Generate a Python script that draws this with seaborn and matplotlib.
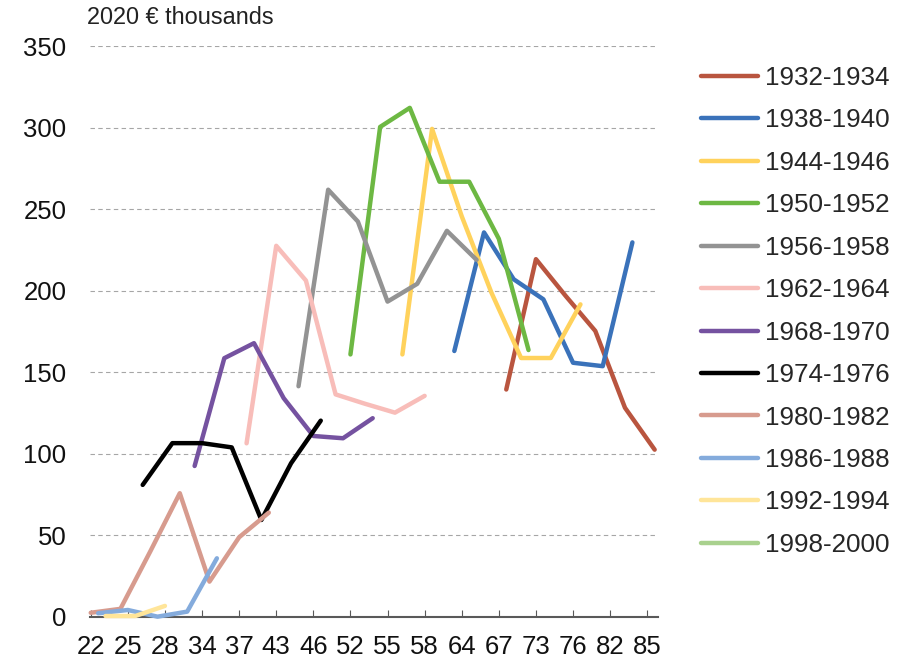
import matplotlib
matplotlib.use("Agg")
import matplotlib.pyplot as plt
from matplotlib.lines import Line2D
import pandas as pd
import seaborn as sns

# birth cohorts and their line colours
cohorts = ["1932-1934", "1938-1940", "1944-1946", "1950-1952", "1956-1958",
           "1962-1964", "1968-1970", "1974-1976", "1980-1982", "1986-1988",
           "1992-1994", "1998-2000"]
colors = ["#B9553F", "#3A72BA", "#FFD25C", "#6DB843", "#939393", "#F8BDB9",
          "#7552A0", "#000000", "#D79B8E", "#84ABDC", "#FFE599", "#A9D18E"]

# category row of each cohort's first wave, and rows of the 7 waves
first_row = [56, 49, 42, 35, 28, 21, 14, 7, 0, -7, -14, -21]
wave_rows = [0, 4, 8, 12, 16, 20, 24]

# values per wave (2020 EUR thousands), None = not shown
v1932 = [139.5, 219.4, 196.9, 175.4, 128.3, 102.6, None]
v1938 = [163.1, 235.8, 207.1, 194.8, 155.9, 153.8, 229.7]
v1944 = [161.0, 299.3, 245.7, 198.9, 158.8, 158.8, 191.7]
v1950 = [161.0, 300.5, 312.2, 266.9, 266.9, 231.9, 163.7]
v1956 = [141.5, 262.0, 242.5, 193.4, 204.3, 236.8, 219.0]
v1962 = [106.5, 227.6, 206.3, 136.5, 130.7, 125.3, 135.6]
v1968 = [92.6, 158.7, 167.9, 134.2, 111.0, 109.6, 121.9]
v1974 = [81.0, 106.6, 106.6, 104.0, 59.5, 94.3, 120.4]
v1980 = [2.6, 5.0, 40.0, 75.9, 21.7, 48.9, 64.0]
v1986 = [None, None, 2.3, 4.3, 0.2, 3.3, 36.0]
v1992 = [None, None, None, None, 0.6, 0.6, 6.8]
v1998 = [None] * 7
values = [v1932, v1938, v1944, v1950, v1956, v1962, v1968, v1974, v1980,
          v1986, v1992, v1998]

# x axis labels (ages), one every 5 category rows
age_labels = ["22", "25", "28", "34", "37", "43", "46", "52", "55", "58",
              "64", "67", "73", "76", "82", "85"]
label_rows = list(range(0, 76, 5))

rows = []
for name, start, vals in zip(cohorts, first_row, values):
    for w, v in zip(wave_rows, vals):
        if v is not None:
            rows.append({"cohort": name, "row": start + w, "value": v})
df = pd.DataFrame(rows)

sns.set_theme(style="white")
plt.rcParams["font.family"] = ["Liberation Sans", "DejaVu Sans"]

fig = plt.figure(figsize=(9.09, 6.65), dpi=100)
ax = fig.add_axes([90 / 909, 1 - 617 / 665, 568 / 909, (617 - 46.2) / 665])

ax.yaxis.grid(True, color="#A6A6A6", linestyle=(0, (4, 3)), linewidth=0.8)
ax.set_axisbelow(True)

palette = dict(zip(cohorts, colors))
present = [c for c in cohorts if c in set(df["cohort"])]
sns.lineplot(data=df, x="row", y="value", hue="cohort", hue_order=present,
             palette=palette, estimator=None, sort=False, legend=False,
             linewidth=3.2, solid_capstyle="round", solid_joinstyle="round",
             clip_on=False, ax=ax)

ax.set_xlim(-0.1, 76.45)
ax.set_ylim(0, 350)
ax.set_yticks(range(0, 351, 50))
ax.set_xticks(label_rows)
ax.set_xticklabels(age_labels)
ax.set_xlabel("")
ax.set_ylabel("")

for s in ["top", "right", "left"]:
    ax.spines[s].set_visible(False)
ax.spines["bottom"].set_color("#595959")
ax.spines["bottom"].set_linewidth(1.5)
ax.spines["bottom"].set_zorder(1)

ax.tick_params(axis="x", direction="in", length=5, width=0.8, color="#595959",
               pad=13, labelsize=18.5, labelcolor="#111111", bottom=True)
ax.tick_params(axis="y", length=0, pad=17, labelsize=18.5, labelcolor="#111111")

fig.text(87 / 909, 1 - 24 / 665, "2020 € thousands", fontsize=16.9,
         color="#222222", va="baseline", ha="left")

handles = [Line2D([], [], color=c, linewidth=3.2, solid_capstyle="round")
           for c in colors]
fig.legend(handles, cohorts, loc="upper left",
           bbox_to_anchor=(701 / 909, 1 - 66 / 665), frameon=False,
           fontsize=18.7, handlelength=2.2, handletextpad=0.25,
           labelspacing=0.71, borderpad=0, borderaxespad=0)

fig.savefig("out.png", dpi=100)
